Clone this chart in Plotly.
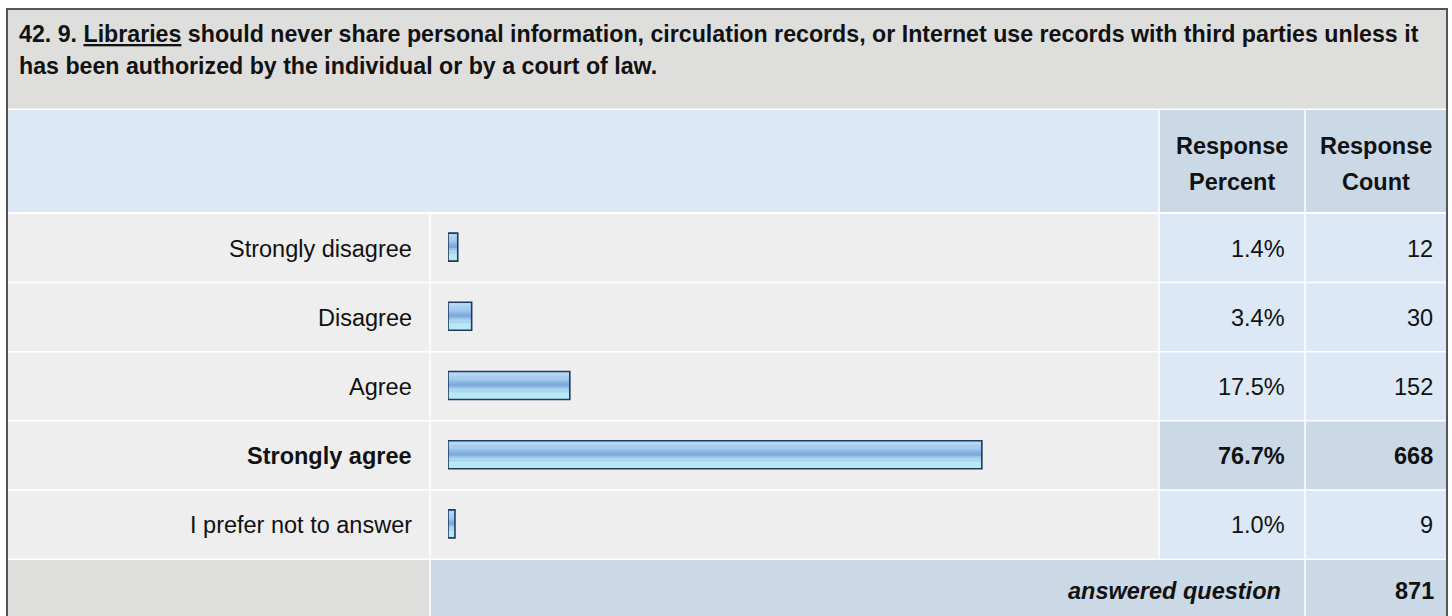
import plotly.graph_objects as go

W, H = 1452, 616

# ---- data ----
categories = ["Strongly disagree", "Disagree", "Agree", "Strongly agree", "I prefer not to answer"]
percents = [1.4, 3.4, 17.5, 76.7, 1.0]
counts = [12, 30, 152, 668, 9]
answered_count = 871
highlight = "Strongly agree"
title_lines = [
    "42. 9. <u>Libraries</u> should never share personal information, circulation records, or Internet use records with third parties unless it",
    "has been authorized by the individual or by a court of law.",
]
header_percent = ["Response", "Percent"]
header_count = ["Response", "Count"]
footer_label = "answered question"

# ---- layout geometry (pixels) ----
FONT = "Arial, 'Liberation Sans', sans-serif"
FS_TITLE = 23.2
FS = 23.5
L, R = 7, 1447
X_LABEL_END = 430
X_PCT = 1159
X_CNT = 1305
TITLE_BOTTOM = 108.5
HEAD_BOTTOM = 212
ROW0 = 212.5
RH = 69.2
FOOT_TOP = ROW0 + 5 * RH
BH = 28.0
GAP = 1.5

C_TITLE = "#dededd"
C_HEAD = "#dce8f5"
C_HEAD_DARK = "#cbd8e6"
C_ROW = "#eeeeee"


def px(x):
    return x / W


def py(y):
    return 1 - y / H


shapes = []


def rect(x0, y0, x1, y1, color, line=None):
    d = dict(type="rect", xref="paper", yref="paper", x0=px(x0), x1=px(x1), y0=py(y1), y1=py(y0),
             fillcolor=color, layer="below", line=dict(width=0))
    if line:
        d["line"] = line
        d["fillcolor"] = "rgba(0,0,0,0)"
        d["layer"] = "above"
    shapes.append(d)


# title band
rect(L, 9, R, TITLE_BOTTOM, C_TITLE)
# header row
rect(L, TITLE_BOTTOM + GAP, X_PCT - GAP / 2, HEAD_BOTTOM, C_HEAD)
rect(X_PCT + GAP / 2, TITLE_BOTTOM + GAP, X_CNT - GAP / 2, HEAD_BOTTOM, C_HEAD_DARK)
rect(X_CNT + GAP / 2, TITLE_BOTTOM + GAP, R, HEAD_BOTTOM, C_HEAD_DARK)
# data rows
for i, cat in enumerate(categories):
    y0 = ROW0 + i * RH + GAP
    y1 = ROW0 + (i + 1) * RH
    vc = C_HEAD_DARK if cat == highlight else C_HEAD
    rect(L, y0, X_LABEL_END - GAP / 2, y1, C_ROW)
    rect(X_LABEL_END + GAP / 2, y0, X_PCT - GAP / 2, y1, C_ROW)
    rect(X_PCT + GAP / 2, y0, X_CNT - GAP / 2, y1, vc)
    rect(X_CNT + GAP / 2, y0, R, y1, vc)
# footer
rect(L, FOOT_TOP + GAP, X_LABEL_END - GAP / 2, H + 5, C_TITLE)
rect(X_LABEL_END + GAP / 2, FOOT_TOP + GAP, X_CNT - GAP / 2, H + 5, C_HEAD_DARK)
rect(X_CNT + GAP / 2, FOOT_TOP + GAP, R, H + 5, C_HEAD_DARK)
# outer border
rect(L, 9, R, H + 10, None, line=dict(color="#555555", width=2))

annotations = []


def text(x, y, s, size, xanchor="left", bold=False, italic=False):
    if bold:
        s = "<b>" + s + "</b>"
    if italic:
        s = "<i>" + s + "</i>"
    annotations.append(dict(xref="paper", yref="paper", x=px(x), y=py(y), text=s, showarrow=False,
                            xanchor=xanchor, yanchor="middle", align=xanchor if xanchor != "center" else "center",
                            font=dict(family=FONT, size=size, color="#111111")))


# title
text(17, 34, title_lines[0], FS_TITLE, bold=True)
text(17, 66, title_lines[1], FS_TITLE, bold=True)
# headers
cx_p = (X_PCT + X_CNT) / 2
cx_c = (X_CNT + R) / 2
text(cx_p, 146, header_percent[0], FS, "center", bold=True)
text(cx_p, 182, header_percent[1], FS, "center", bold=True)
text(cx_c, 146, header_count[0], FS, "center", bold=True)
text(cx_c, 182, header_count[1], FS, "center", bold=True)
# rows
for i, cat in enumerate(categories):
    yc = ROW0 + (i + 0.5) * RH + 1.5
    b = cat == highlight
    text(414, yc, cat, FS, "right", bold=b)
    text(1287, yc, f"{percents[i]:.1f}%", FS, "right", bold=b)
    text(1435, yc, f"{counts[i]}", FS, "right", bold=b)
# footer
fy = FOOT_TOP + (H - FOOT_TOP) / 2 + 4
text(1283, fy, footer_label, FS, "right", bold=True, italic=True)
text(1436, fy, str(answered_count), FS, "right", bold=True)

# ---- bars with a glossy gradient: stacked bands, each drawn from its top to the bar bottom ----
stripes = [
    (0, "#b3d8f3"),
    (4, "#a6cdef"),
    (8, "#98c2ea"),
    (10, "#88b5e2"),
    (12, "#7eabdc"),
    (15, "#94c3e6"),
    (17, "#a9d8ee"),
    (21, "#b9e7f4"),
]
fig = go.Figure()
for t, c in stripes:
    fig.add_trace(go.Bar(
        y=categories, x=percents, orientation="h",
        width=[(BH - t) / RH] * len(categories),
        offset=[(-BH / 2 + t) / RH] * len(categories),
        marker=dict(color=c, line=dict(width=0)),
        hoverinfo="skip",
    ))
fig.add_trace(go.Bar(
    y=categories, x=percents, orientation="h",
    width=[BH / RH] * len(categories),
    offset=[-BH / 2 / RH] * len(categories),
    marker=dict(color="rgba(0,0,0,0)", line=dict(color="#1f3a5c", width=1.6)),
    hoverinfo="skip",
))

X0_BAR = 448.0
X100_BAR = 1144.0
fig.update_layout(
    width=W, height=H,
    margin=dict(l=0, r=0, t=0, b=0),
    paper_bgcolor="white", plot_bgcolor="rgba(0,0,0,0)",
    barmode="overlay", showlegend=False, hovermode=False,
    shapes=shapes, annotations=annotations,
    xaxis=dict(domain=[px(X0_BAR), px(X100_BAR)], range=[0, 100], visible=False, fixedrange=True),
    yaxis=dict(domain=[py(FOOT_TOP), py(ROW0)], type="category", categoryorder="array",
               categoryarray=categories, range=[len(categories) - 0.5, -0.5], visible=False, fixedrange=True),
)

fig.write_html("out.html", config={"displayModeBar": False},
               post_script="document.body.style.margin='0';document.body.style.overflow='hidden';")
